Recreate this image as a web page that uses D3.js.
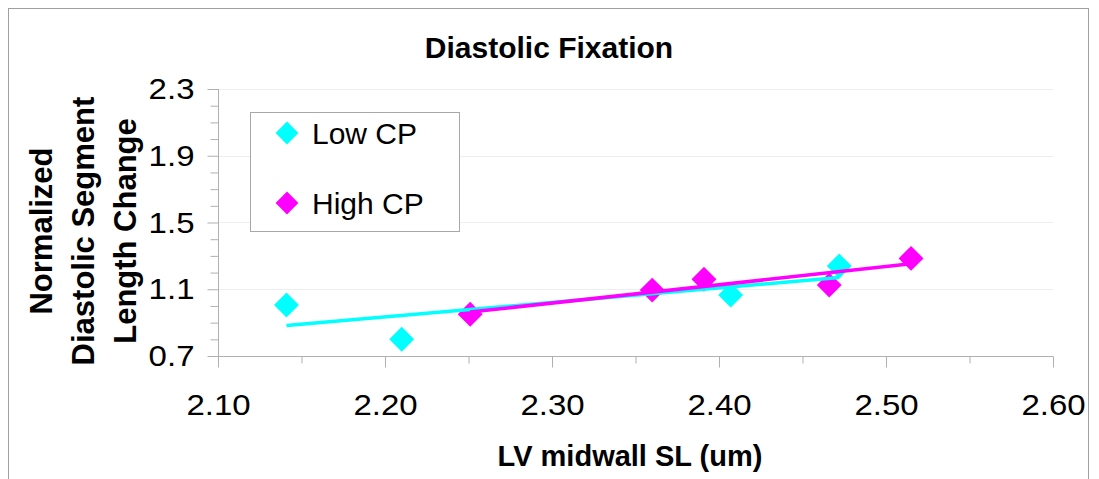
<!DOCTYPE html>
<html>
<head>
<meta charset="utf-8">
<script src="https://cdn.jsdelivr.net/npm/d3@7"></script>
<style>
  body { margin: 0; background: #fff; }
  text { font-family: "Liberation Sans", Arial, sans-serif; fill: #000; }
</style>
</head>
<body>
<svg id="chart" width="1099" height="479"></svg>
<script>

// Low CP series (cyan).
var lowX = [2.141, 2.210, 2.407, 2.472];
var lowY = [1.006, 0.800, 1.065, 1.239];

// High CP series (magenta).
var highX = [2.251, 2.360, 2.391, 2.466, 2.515];
var highY = [0.950, 1.095, 1.160, 1.125, 1.285];

var xTicks = [2.10, 2.20, 2.30, 2.40, 2.50, 2.60];
var xMinorTicks = [2.15, 2.25, 2.35, 2.45, 2.55];
var yTicks = [0.7, 1.1, 1.5, 1.9, 2.3];
var yMinorTicks = [0.8, 0.9, 1.0, 1.2, 1.3, 1.4, 1.6, 1.7, 1.8, 2.0, 2.1, 2.2];

var seriesNames = ['Low CP', 'High CP'];
var seriesColors = ['#00ffff', '#ff00ff'];

var svg = d3.select('#chart');

var x = d3.scaleLinear().domain([2.10, 2.60]).range([218, 1053]);
var y = d3.scaleLinear().domain([0.7, 2.3]).range([356, 89]);

// Widen a text a bit, the source font runs wider than Arial.
function stretch(sel, k) {
  sel.each(function() {
    var w = this.getComputedTextLength();
    d3.select(this)
      .attr('textLength', w * k)
      .attr('lengthAdjust', 'spacingAndGlyphs');
  });
}

// Outer frame.
svg.append('rect')
  .attr('x', 8.5).attr('y', 8.5)
  .attr('width', 1080).attr('height', 520)
  .attr('fill', 'none')
  .attr('stroke', '#a0a0a0');

// Horizontal gridlines.
svg.append('g')
  .selectAll('line')
  .data(yTicks.slice(1))
  .join('line')
  .attr('x1', x(2.10)).attr('x2', x(2.60))
  .attr('y1', function(d) { return Math.round(y(d)) + 0.5; })
  .attr('y2', function(d) { return Math.round(y(d)) + 0.5; })
  .attr('stroke', '#eeeeee');

// Axes.
var axisColor = '#b0b0b0';

var xAxis = svg.append('g')
  .attr('transform', 'translate(0,' + (y(0.7) + 0.5) + ')')
  .call(d3.axisBottom(x).tickValues(xTicks).tickSize(11).tickPadding(26)
    .tickFormat(d3.format('.2f')));

svg.append('g')
  .attr('transform', 'translate(0,' + (y(0.7) + 0.5) + ')')
  .call(d3.axisBottom(x).tickValues(xMinorTicks).tickSize(7)
    .tickFormat(''))
  .call(function(g) { g.select('.domain').remove(); });

var yAxis = svg.append('g')
  .attr('transform', 'translate(' + (x(2.10) + 0.5) + ',0)')
  .call(d3.axisLeft(y).tickValues(yTicks).tickSize(11).tickPadding(13)
    .tickFormat(d3.format('.1f')));

svg.append('g')
  .attr('transform', 'translate(' + (x(2.10) + 0.5) + ',0)')
  .call(d3.axisLeft(y).tickValues(yMinorTicks).tickSize(8).tickFormat(''))
  .call(function(g) { g.select('.domain').remove(); });

svg.selectAll('.domain, .tick line').attr('stroke', axisColor);
svg.selectAll('.tick text')
  .attr('font-size', 30)
  .attr('font-family', '"Liberation Sans", Arial, sans-serif')
  .attr('fill', '#000')
  .call(stretch, 1.1);
yAxis.selectAll('.domain').attr('d', 'M0,' + y(2.3) + 'V' + y(0.7));
xAxis.selectAll('.domain').attr('d', 'M' + x(2.10) + ',0H' + x(2.60));

// Markers.
var diamond = d3.symbol().type(d3.symbolSquare).size(310);

function drawPoints(xs, ys, color) {
  svg.append('g')
    .selectAll('path')
    .data(xs)
    .join('path')
    .attr('d', diamond)
    .attr('transform', function(d, i) {
      return 'translate(' + x(d) + ',' + y(ys[i]) + ') rotate(45)';
    })
    .attr('fill', color);
}

drawPoints(lowX, lowY, seriesColors[0]);
drawPoints(highX, highY, seriesColors[1]);

// Linear trendlines from the data.
function drawTrend(xs, ys, color) {
  var mx = d3.mean(xs), my = d3.mean(ys);
  var sxy = d3.sum(xs, function(d, i) { return (d - mx) * (ys[i] - my); });
  var sxx = d3.sum(xs, function(d) { return (d - mx) * (d - mx); });
  var b = sxy / sxx, a = my - b * mx;
  var ends = d3.extent(xs);
  svg.append('path')
    .datum(ends)
    .attr('d', d3.line()
      .x(function(d) { return x(d); })
      .y(function(d) { return y(a + b * d); }))
    .attr('stroke', color)
    .attr('stroke-width', 3.5)
    .attr('fill', 'none');
}

drawTrend(lowX, lowY, seriesColors[0]);
drawTrend(highX, highY, seriesColors[1]);

// Legend.
var legend = svg.append('g');
legend.append('rect')
  .attr('x', 250.5).attr('y', 112.5)
  .attr('width', 209).attr('height', 119)
  .attr('fill', '#fff')
  .attr('stroke', '#a8a8a8');

seriesNames.forEach(function(name, i) {
  var cy = 133 + i * 70;
  legend.append('path')
    .attr('d', d3.symbol().type(d3.symbolSquare).size(260))
    .attr('transform', 'translate(287,' + cy + ') rotate(45)')
    .attr('fill', seriesColors[i]);
  legend.append('text')
    .attr('x', 312).attr('y', cy + 11)
    .attr('font-size', 30)
    .text(name);
});

// Titles.
svg.append('text')
  .attr('x', 549).attr('y', 58)
  .attr('text-anchor', 'middle')
  .attr('font-size', 30).attr('font-weight', 'bold')
  .text('Diastolic Fixation');

svg.append('text')
  .attr('x', 630).attr('y', 466)
  .attr('text-anchor', 'middle')
  .attr('font-size', 29).attr('font-weight', 'bold')
  .text('LV midwall SL (um)');

var yTitle = ['Normalized', 'Diastolic Segment', 'Length Change'];
svg.append('g')
  .attr('transform', 'translate(0,231) rotate(-90)')
  .selectAll('text')
  .data(yTitle)
  .join('text')
  .attr('x', 0)
  .attr('y', function(d, i) { return 52 + i * 42; })
  .attr('text-anchor', 'middle')
  .attr('font-size', 31).attr('font-weight', 'bold')
  .text(function(d) { return d; });

</script>
</body>
</html>
